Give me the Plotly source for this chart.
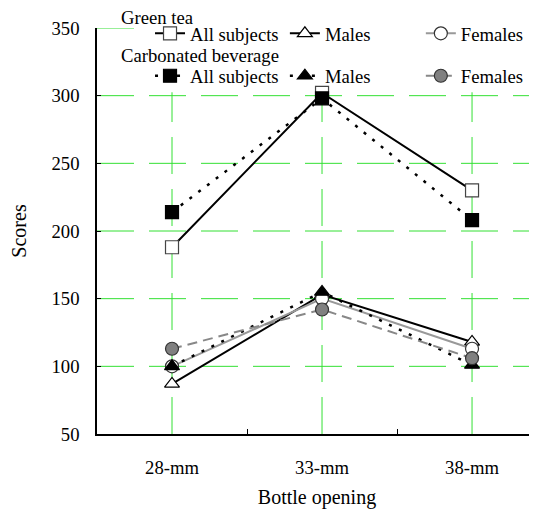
import plotly.graph_objects as go

categories = ["28-mm", "33-mm", "38-mm"]
x_pos = [0, 1, 2]
gt_all = [188, 302, 230]
gt_males = [87, 153, 118]
gt_females = [100, 150, 113]
cb_all = [214, 298, 208]
cb_males = [100, 155, 101]
cb_females = [113, 142, 106]
y_ticks = [50, 100, 150, 200, 250, 300, 350]

FONT = "Liberation Serif"
GRID = "#33e033"
X_MIN, X_MAX = -0.5, 2.433
Y_MIN, Y_MAX = 50, 350
FS = 18.67

fig = go.Figure()

def add(name, y, symbol, mcolor, lcolor, lwidth, dash, legend, mline="#444"):
    fig.add_trace(go.Scatter(
        x=x_pos, y=y, name=name, mode="lines+markers",
        line=dict(color=lcolor, width=lwidth, dash=dash),
        marker=dict(symbol=symbol, size=13, color=mcolor, line=dict(color=mline, width=1.2)),
        legend=legend,
    ))

add("All subjects", gt_all, "square", "white", "black", 2, "solid", "legend")
add("Males", gt_males, "triangle-up", "white", "black", 2, "solid", "legend2", "black")
add("Females", gt_females, "circle", "white", "#999999", 2, "solid", "legend3", "#333")
add("All subjects", cb_all, "square", "black", "black", 2.5, "3px,8px", "legend4", "black")
add("Males", cb_males, "triangle-up", "black", "black", 2.5, "3px,8px", "legend5", "black")
add("Females", cb_females, "circle", "#808080", "#888888", 2, "10px,6px", "legend6", "#333")

# gridlines as shapes (the legend area hides their upper part in the reference)
grid_shapes = []
for yv in y_ticks[1:]:
    x_end = X_MAX if yv < Y_MAX else -0.193
    grid_shapes.append(dict(type="line", xref="x", yref="y", x0=X_MIN, x1=x_end, y0=yv, y1=yv,
                            line=dict(color=GRID, width=1, dash="37px,15px"), layer="below"))
for xv in x_pos:
    grid_shapes.append(dict(type="line", xref="x", yref="y", x0=xv, x1=xv, y0=Y_MIN, y1=302.5,
                            line=dict(color=GRID, width=1, dash="37px,15px"), layer="below"))

leg_common = dict(orientation="h", xanchor="left", yanchor="middle", bgcolor="rgba(0,0,0,0)",
                  font=dict(size=FS, family=FONT), itemclick=False, itemdoubleclick=False)
row1, row2 = 0.986, 0.8815
cols = [0.1205, 0.427, 0.736]

fig.update_layout(
    width=529, height=505,
    margin=dict(l=89, r=0, t=20, b=79),
    paper_bgcolor="white", plot_bgcolor="white",
    font=dict(family=FONT, color="black", size=FS),
    xaxis=dict(
        range=[X_MIN, X_MAX], tickmode="array", tickvals=x_pos, ticktext=categories,
        ticks="", showgrid=False,
        showline=True, linecolor="black", linewidth=1.5, zeroline=False,
        tickfont=dict(size=FS, family=FONT), ticklabelstandoff=16,
        minor=dict(tickvals=[0.5, 1.5], ticks="inside", ticklen=5, tickcolor="black", showgrid=False),
        title=dict(text="Bottle opening", font=dict(size=20, family=FONT), standoff=13),
    ),
    yaxis=dict(
        range=[Y_MIN, Y_MAX], tickmode="array", tickvals=y_ticks,
        ticks="inside", ticklen=4, tickcolor="black", showgrid=False,
        showline=True, linecolor="black", linewidth=1.5, zeroline=False,
        tickfont=dict(size=FS, family=FONT), ticklabelstandoff=12,
        title=dict(text="Scores", font=dict(size=20, family=FONT), standoff=20),
    ),
    legend=dict(x=cols[0], y=row1, **leg_common),
    legend2=dict(x=cols[1], y=row1, **leg_common),
    legend3=dict(x=cols[2], y=row1, **leg_common),
    legend4=dict(x=cols[0], y=row2, **leg_common),
    legend5=dict(x=cols[1], y=row2, **leg_common),
    legend6=dict(x=cols[2], y=row2, **leg_common),
    showlegend=True,
    shapes=grid_shapes,
    annotations=[
        dict(text="Green tea", xref="paper", yref="paper", x=0.05, y=1.025, xanchor="left", yanchor="middle",
             showarrow=False, font=dict(size=FS, family=FONT)),
        dict(text="Carbonated beverage", xref="paper", yref="paper", x=0.05, y=0.932, xanchor="left", yanchor="middle",
             showarrow=False, font=dict(size=FS, family=FONT)),
    ],
)

fig.write_html("out.html")
